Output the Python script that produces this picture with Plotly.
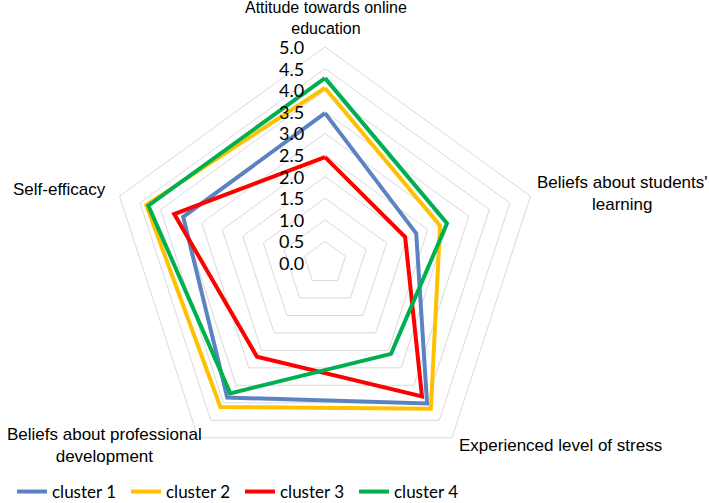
import plotly.graph_objects as go

categories = [
    "Attitude towards online<br>education",
    "Beliefs about students'<br>learning",
    "Experienced level of stress",
    "Beliefs about professional<br>development",
    "Self-efficacy",
]
series_names = ["cluster 1", "cluster 2", "cluster 3", "cluster 4"]
cluster1 = [3.47, 2.22, 4.02, 3.85, 3.45]
cluster2 = [4.05, 2.80, 4.17, 4.12, 4.35]
cluster3 = [2.45, 1.95, 3.82, 2.68, 3.67]
cluster4 = [4.28, 2.97, 2.60, 3.73, 4.30]
radial_ticks = [0.0, 0.5, 1.0, 1.5, 2.0, 2.5, 3.0, 3.5, 4.0, 4.5, 5.0]

colors = ["#5B83C4", "#FFC000", "#FF0000", "#00B050"]
all_values = [cluster1, cluster2, cluster3, cluster4]

W, H = 709, 503
RMAX = 5.0


def px(x, y):
    """convert pixel position to paper coords"""
    return x / W, 1 - y / H


fig = go.Figure()
for name, vals, col in zip(series_names, all_values, colors):
    fig.add_trace(go.Scatterpolar(
        r=vals + vals[:1],
        theta=categories + categories[:1],
        mode="lines",
        name=name,
        line=dict(color=col, width=4),
    ))

label_px = [(326, 18), (622, 193), (560, 445), (104, 445), (60, 190)]
label_size = [16, 17, 17, 17, 17]
for text, (x, y), fs in zip(categories, label_px, label_size):
    xp, yp = px(x, y)
    fig.add_annotation(
        text=text, x=xp, y=yp, xref="paper", yref="paper",
        showarrow=False, xanchor="center", yanchor="middle",
        font=dict(family="Liberation Sans, Arial", size=fs, color="#000000"),
        align="center",
    )

cx, cy, R = 325, 263, 216

# radial tick labels to the left of the vertical axis
for v in radial_ticks:
    xp, yp = px(cx - 19, cy - v / RMAX * R)
    fig.add_annotation(
        text=f"{v:.1f}", x=xp, y=yp, xref="paper", yref="paper",
        showarrow=False, xanchor="right", yanchor="middle",
        font=dict(family="Lato, Carlito, sans-serif", size=18, color="#000000"),
    )

x0, y1 = px(cx - R, cy - R)
x1, y0 = px(cx + R, cy + R)
lx, ly = px(12, 492)

fig.update_layout(
    width=W, height=H,
    margin=dict(l=0, r=0, t=0, b=0, autoexpand=False),
    paper_bgcolor="white",
    plot_bgcolor="white",
    polar=dict(
        domain=dict(x=[x0, x1], y=[y0, y1]),
        gridshape="linear",
        bgcolor="white",
        radialaxis=dict(
            range=[0, RMAX], tickvals=radial_ticks,
            angle=90, showticklabels=False, showline=False, ticks="",
            gridcolor="#D9D9D9", gridwidth=1,
        ),
        angularaxis=dict(
            direction="clockwise", rotation=90,
            showticklabels=False, showgrid=False, ticks="",
            linecolor="#D9D9D9", linewidth=1,
        ),
    ),
    legend=dict(
        orientation="h", x=lx, y=ly, xanchor="left", yanchor="middle",
        font=dict(family="Lato, Carlito, sans-serif", size=17, color="#000000"),
        entrywidth=69,
    ),
    showlegend=True,
)

fig.write_html("out.html", config={"displayModeBar": False},
               post_script="document.body.style.margin='0';")
